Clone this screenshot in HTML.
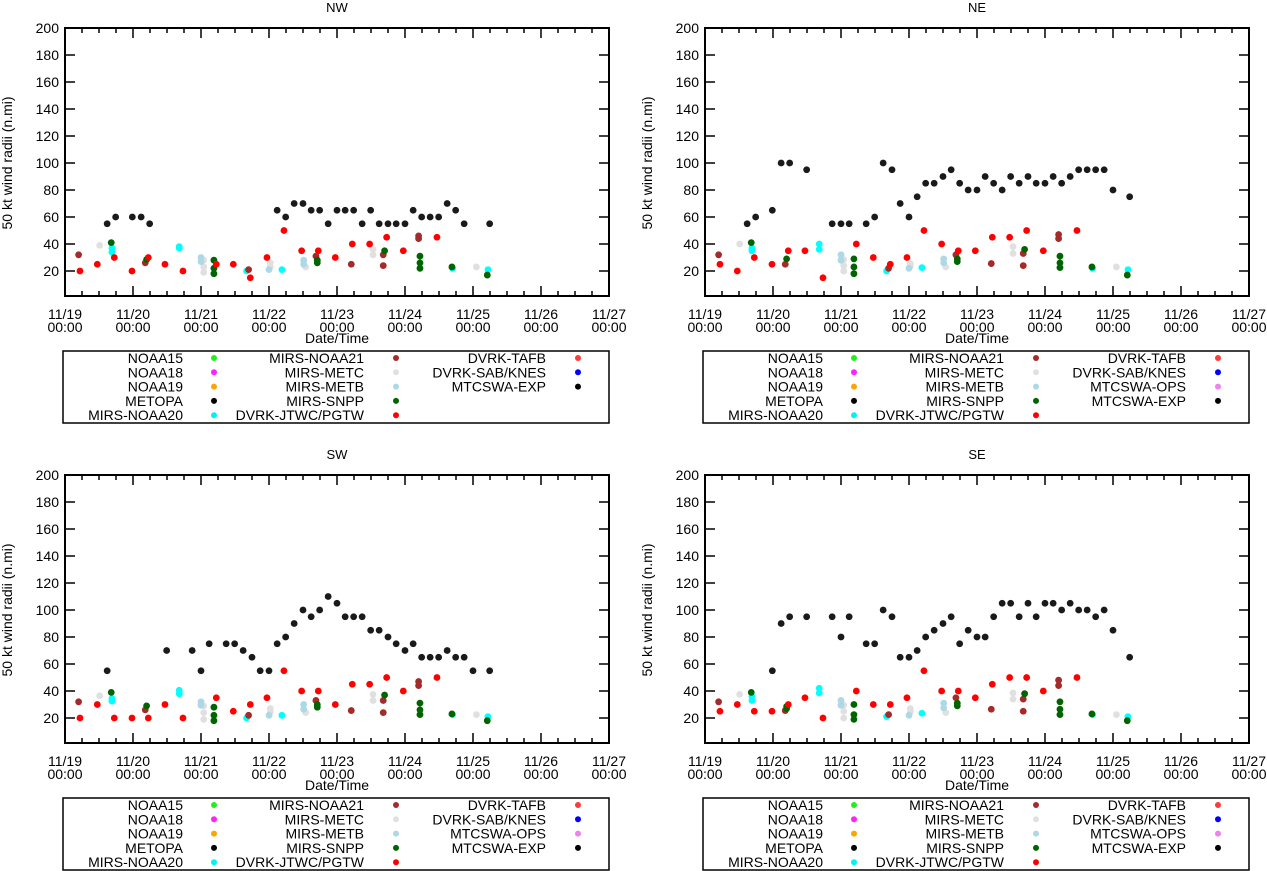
<!DOCTYPE html>
<html><head><meta charset="utf-8">
<style>
html,body{margin:0;padding:0;background:#fff;}
svg{display:block;font-family:"Liberation Sans",sans-serif;}
</style></head>
<body>
<svg id="chart" width="1267" height="871" viewBox="0 0 1267 871"></svg>
<script>
// ---- data (days since 11/19 00:00, radius in n.mi) ----
const panelNames = ["NW","NE","SW","SE"];
const xTickLabels = ["11/19","11/20","11/21","11/22","11/23","11/24","11/25","11/26","11/27"];
const yTickLabels = [20,40,60,80,100,120,140,160,180,200];

const redDays = [0.22,0.475,0.725,0.985,1.225,1.47,1.735,2.225,2.475,2.725,2.97,3.22,3.48,3.725,3.975,4.225,4.48,4.73,4.975,5.47];
const brownDays = [0.2,1.18,2.7,3.69,4.21,4.68,4.68,5.2,5.2];
const greenDays = [0.68,1.2,2.19,2.19,2.19,3.71,3.71,4.7,5.22,5.22,5.22,5.69,6.21];
const cyanDays = [0.69,0.69,1.68,1.68,2.67,3.19,5.7,6.22];
const lblueDays = [2.0,2.0,3.0,3.51,3.51];
const greyDays = [0.51,2.04,2.04,2.04,3.02,3.02,3.54,4.53,4.53,6.05];

// NW
const nwBlackDays = [0.62,0.745,0.99,1.12,1.245,3.12,3.245,3.37,3.5,3.62,3.745,3.87,4.0,4.12,4.245,4.37,4.495,4.62,4.75,4.87,5.0,5.12,5.245,5.37,5.495,5.62,5.745,5.87,6.245];
const nwBlackVals = [55,60,60,60,55,65,60,70,70,65,65,55,65,65,65,55,65,55,55,55,55,65,60,60,60,70,65,55,55];
const nwRedVals = [20,25,30,20,30,25,20,25,25,15,30,50,35,35,30,40,40,45,35,45];
const nwBrownVals = [32,26,21,31,25,32,24,46,44];
const nwGreenVals = [41,28.5,28,22,18,28,26,35,31,26,22,23,17];
const nwCyanVals = [37,34,38,37,20,21,22,21];
const nwLblueVals = [30,27,21,28,25];
const nwGreyVals = [39,28,23,19,26,23,23,36,32,23];

// NE
const neBlackDays = [0.62,0.745,0.99,1.12,1.245,1.495,1.87,2.0,2.12,2.37,2.495,2.62,2.75,2.87,3.0,3.12,3.245,3.37,3.5,3.62,3.745,3.87,4.0,4.12,4.245,4.37,4.495,4.62,4.75,4.87,5.0,5.12,5.245,5.37,5.495,5.62,5.745,5.87,6.0,6.245];
const neBlackVals = [55,60,65,100,100,95,55,55,55,55,60,100,95,70,60,75,85,85,90,95,85,80,80,90,85,80,90,85,90,85,85,90,85,90,95,95,95,95,80,75];
const neRedVals = [25,20,30,25,35,35,15,40,30,25,30,50,40,35,35,45,45,50,35,50];
const neBrownVals = [32,25,22,32,25.5,33,24,47,44];
const neGreenVals = [41,29,29,23,18,29,27,36,31,26,22.5,23,17];
const neCyanVals = [37,35,40,36,20,22.5,22,21];
const neLblueVals = [32,28,22,29,26];
const neGreyVals = [40,28.5,24,20,25.5,23.5,23,38,33,23];

// SW
const swBlackDays = [0.62,1.495,1.87,2.0,2.12,2.37,2.495,2.62,2.75,2.87,3.0,3.12,3.245,3.37,3.5,3.62,3.745,3.87,4.0,4.12,4.245,4.37,4.495,4.62,4.75,4.87,5.0,5.12,5.245,5.37,5.495,5.62,5.745,5.87,6.0,6.245];
const swBlackVals = [55,70,70,55,75,75,75,70,65,55,55,75,80,90,100,95,100,110,105,95,95,95,85,85,80,75,70,75,65,65,65,70,65,65,55,55];
const swRedVals = [20,30,20,20,20,30,20,35,25,30,35,55,40,40,30,45,45,50,40,50];
const swBrownVals = [32,26,22,33,25.5,33,24,47,44];
const swGreenVals = [39,29,28,22,18,30,28,37,31,26,22.5,23,18];
const swCyanVals = [34.5,32.5,40.5,38,20,22,22.5,21];
const swLblueVals = [32,29.5,22,30,26.5];
const swGreyVals = [36.5,29,24,19,27,24.5,24,37.5,33,22.5];

// SE
const seBlackDays = [0.99,1.12,1.245,1.495,1.87,2.0,2.12,2.37,2.495,2.62,2.75,2.87,3.0,3.12,3.245,3.37,3.5,3.62,3.745,3.87,4.0,4.12,4.245,4.37,4.495,4.62,4.75,4.87,5.0,5.12,5.245,5.37,5.495,5.62,5.745,5.87,6.0,6.245];
const seBlackVals = [55,90,95,95,95,80,95,75,75,100,95,65,65,70,80,85,90,95,75,85,80,80,95,105,105,95,105,95,105,105,100,105,100,100,95,100,85,65];
const seRedVals = [25,30,25,25,30,35,20,40,30,30,35,55,40,40,35,45,50,50,40,50];
const seBrownVals = [32,25.5,22.5,35,26.5,34,25,48,44];
const seGreenVals = [39,28.5,27,30,22.5,19,31,29,38,32,26.5,22.5,23,18];
const seGreenDays = [0.68,1.2,1.2,2.19,2.19,2.19,3.71,3.71,4.7,5.22,5.22,5.22,5.69,6.21];
const seCyanVals = [36,33,42,38.5,21,23.5,22.5,21];
const seLblueVals = [33,29.5,22,31,27.5];
const seGreyVals = [37.5,29.5,25,20,27,24.5,24,38.5,34,22.5];

const legendLeft = ["NOAA15","NOAA18","NOAA19","METOPA","MIRS-NOAA20"];
const legendLeftColors = ["#22ee22","#ff22ff","#ffa500","#000000","#00f0ff"];
const legendMid = ["MIRS-NOAA21","MIRS-METC","MIRS-METB","MIRS-SNPP","DVRK-JTWC/PGTW"];
const legendMidColors = ["#a52a2a","#e0e0e0","#add8e6","#006400","#ff0000"];
const legendRightTop = ["DVRK-TAFB","DVRK-SAB/KNES","MTCSWA-EXP"];
const legendRightTopColors = ["#ff3b3b","#0000ff","#000000"];
const legendRightFull = ["DVRK-TAFB","DVRK-SAB/KNES","MTCSWA-OPS","MTCSWA-EXP"];
const legendRightFullColors = ["#ff3b3b","#0000ff","#ee82ee","#000000"];

const NS = "http://www.w3.org/2000/svg";
const svg = document.getElementById("chart");
function mk(tag, attrs, parent){
  const e = document.createElementNS(NS, tag);
  for (const k in attrs) e.setAttribute(k, attrs[k]);
  (parent||svg).appendChild(e);
  return e;
}
const L=65, R=609, T=28, B=296;
function xScale(d){ return L + d*68; }
function yScale(v){ return 298 - v*1.35; }

const panels = [
  {ox:0, oy:0, id:"nw", black:[nwBlackDays,nwBlackVals], red:nwRedVals, brown:nwBrownVals, green:[greenDays,nwGreenVals], cyan:nwCyanVals, lblue:nwLblueVals, grey:nwGreyVals, right:[legendRightTop,legendRightTopColors]},
  {ox:640, oy:0, id:"ne", black:[neBlackDays,neBlackVals], red:neRedVals, brown:neBrownVals, green:[greenDays,neGreenVals], cyan:neCyanVals, lblue:neLblueVals, grey:neGreyVals, right:[legendRightFull,legendRightFullColors]},
  {ox:0, oy:447, id:"sw", black:[swBlackDays,swBlackVals], red:swRedVals, brown:swBrownVals, green:[greenDays,swGreenVals], cyan:swCyanVals, lblue:swLblueVals, grey:swGreyVals, right:[legendRightFull,legendRightFullColors]},
  {ox:640, oy:447, id:"se", black:[seBlackDays,seBlackVals], red:seRedVals, brown:seBrownVals, green:[seGreenDays,seGreenVals], cyan:seCyanVals, lblue:seLblueVals, grey:seGreyVals, right:[legendRightFull,legendRightFullColors]}
];

panels.forEach((p, pi) => {
  const g = mk("g", {transform:`translate(${p.ox},${p.oy})`});
  
  

  const title = mk("text", {x:337, y:12, "text-anchor":"middle", "font-size":"13"}, g);
  title.textContent = panelNames[pi];
  
  

  const yl = mk("text", {x:0, y:0, transform:"translate(12,163) rotate(-90)", "text-anchor":"middle", "font-size":"14"}, g);
  yl.textContent = "50 kt wind radii (n.mi)";
  
  

  const tk = mk("g", {stroke:"#000","stroke-width":"1.5"}, g);
  
  
  yTickLabels.forEach(v => {
    const y = yScale(v);
    mk("line", {x1:L, x2:L+10, y1:y, y2:y}, tk);
    mk("line", {x1:R-10, x2:R, y1:y, y2:y}, tk);
    const t = mk("text", {x:L-6, y:y+5, "text-anchor":"end", "font-size":"14", stroke:"none"}, g);
    t.textContent = v;
    
    
  });
  for (let q = 0; q <= 32; q++) {
    const x = xScale(q/4);
    const len = (q % 4 === 0) ? 10 : 5;
    mk("line", {x1:x, x2:x, y1:B, y2:B-len}, tk);
    mk("line", {x1:x, x2:x, y1:T, y2:T+len}, tk);
  }
  xTickLabels.forEach((lab, i) => {
    const x = xScale(i);
    const t = mk("text", {x:x, y:319, "text-anchor":"middle", "font-size":"14"}, g);
    t.textContent = lab;
    
    
    const t2 = mk("text", {x:x, y:332, "text-anchor":"middle", "font-size":"14"}, g);
    t2.textContent = "00:00";
    
    
  });
  const xt = mk("text", {x:337, y:343, "text-anchor":"middle", "font-size":"14"}, g);
  xt.textContent = "Date/Time";
  
  

  const frame = mk("rect", {x:L, y:T, width:R-L, height:B-T, fill:"none", stroke:"#000", "stroke-width":"2"}, g);
  
  

  const series = [
    ["mirs-metc", greyDays, p.grey, "#e0e0e0"],
    ["mirs-metb", lblueDays, p.lblue, "#add8e6"],
    ["mirs-noaa20", cyanDays, p.cyan, "#00ffff"],
    ["mirs-noaa21", brownDays, p.brown, "#a52a2a"],
    ["mirs-snpp", p.green[0], p.green[1], "#006400"],
    ["dvrk-jtwc", redDays, p.red, "#ff0000"],
    ["mtcswa-exp", p.black[0], p.black[1], "#1a1a1a"]
  ];
  series.forEach(s => {
    const sg = mk("g", {fill:s[3]}, g);
    
    
    const n = Math.min(s[1].length, s[2].length);
    for (let i = 0; i < n; i++) {
      const c = mk("circle", {cx:xScale(s[1][i]), cy:yScale(s[2][i]), r:3.4}, sg);
      
      
    }
  });

  const lg = mk("g", {}, g);
  
  
  mk("rect", {x:63, y:351, width:546, height:72, fill:"none", stroke:"#000", "stroke-width":"1.5"}, lg);
  const cols = [[legendLeft, legendLeftColors, 183, 214],[legendMid, legendMidColors, 364, 396],[p.right[0], p.right[1], 546, 578]];
  cols.forEach(col => {
    col[0].forEach((lab, i) => {
      const y = 358 + i*14.3;
      const t = mk("text", {x:col[2], y:y+5, "text-anchor":"end", "font-size":"14"}, lg);
      t.textContent = lab;
      
      
      const c = mk("circle", {cx:col[3], cy:y, r:3, fill:col[1][i]}, lg);
      
      
    });
  });
});
</script>
</body></html>
